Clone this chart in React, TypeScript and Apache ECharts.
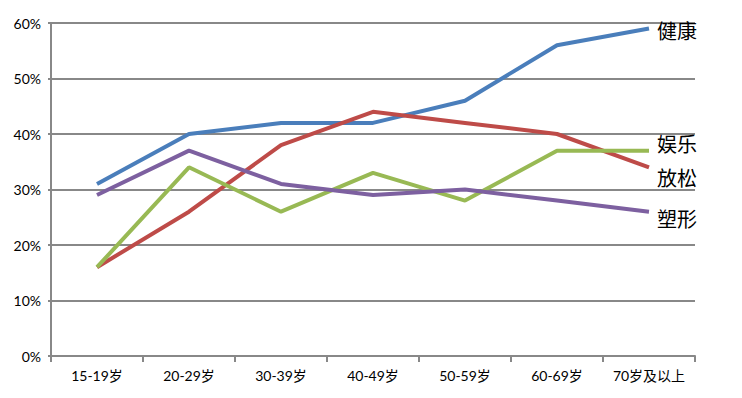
import React, { useEffect, useRef } from "react";
import * as echarts from "echarts";

const categories = ["15-19岁", "20-29岁", "30-39岁", "40-49岁", "50-59岁", "60-69岁", "70岁及以上"];
const yTicks = [0, 10, 20, 30, 40, 50, 60];
const health = [31, 40, 42, 42, 46, 56, 59];
const relax = [16, 26, 38, 44, 42, 40, 34];
const fun = [16, 34, 26, 33, 28, 37, 37];
const shape = [29, 37, 31, 29, 30, 28, 26];

const seriesDefs = [
  { name: "健康", data: health, color: "#4a7ebb", offset: [0, 2] },
  { name: "放松", data: relax, color: "#be4b48", offset: [0, 10] },
  { name: "娱乐", data: fun, color: "#98b954", offset: [0, -7] },
  { name: "塑形", data: shape, color: "#7d60a0", offset: [0, 7] },
];

export default function App() {
  const ref = useRef<HTMLDivElement>(null);
  useEffect(() => {
    if (!ref.current) return;
    const chart = echarts.init(ref.current, null, { renderer: "svg" });
    chart.setOption({
      animation: false,
      backgroundColor: "#ffffff",
      grid: { left: 51, right: 47, top: 23, bottom: 42, containLabel: false },
      xAxis: {
        type: "category",
        data: categories,
        boundaryGap: true,
        axisLine: { lineStyle: { color: "#888888", width: 2 } },
        axisTick: { show: true, interval: 0, length: 6, lineStyle: { color: "#888888", width: 2 } },
        axisLabel: { interval: 0, color: "#000000", fontSize: 14, fontFamily: "Lato, Noto Sans CJK SC", margin: 12 },
      },
      yAxis: {
        type: "value",
        min: yTicks[0],
        max: yTicks[yTicks.length - 1],
        interval: 10,
        axisLine: { show: true, lineStyle: { color: "#888888", width: 2 } },
        axisTick: { show: true, length: 3, lineStyle: { color: "#888888", width: 2 } },
        splitLine: { lineStyle: { color: "#888888", width: 2 } },
        axisLabel: { color: "#000000", fontSize: 14, fontFamily: "Lato", formatter: "{value}%", margin: 10 },
      },
      series: seriesDefs.map((s) => ({
        name: s.name,
        type: "line",
        data: s.data,
        symbol: "none",
        lineStyle: { color: s.color, width: 4 },
        itemStyle: { color: s.color },
        endLabel: {
          show: true,
          formatter: s.name,
          color: "#000000",
          fontSize: 20,
          fontFamily: "Noto Sans CJK SC",
          distance: 8,
          offset: s.offset,
        },
      })),
    });
    return () => chart.dispose();
  }, []);
  return <div ref={ref} style={{ width: 742, height: 398, position: "absolute", left: 0, top: 0 }} />;
}
